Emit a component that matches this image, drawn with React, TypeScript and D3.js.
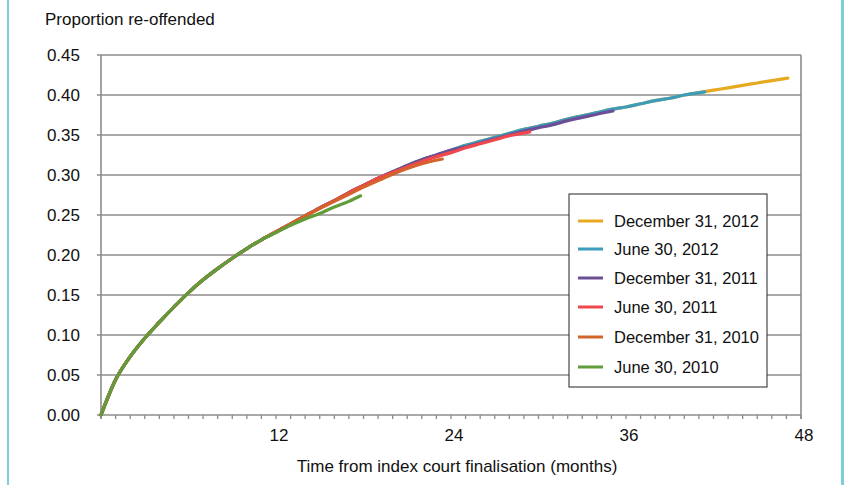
import React from "react";
import * as d3 from "d3";

// ---- Data ----
const seriesNames = [
  "December 31, 2012",
  "June 30, 2012",
  "December 31, 2011",
  "June 30, 2011",
  "December 31, 2010",
  "June 30, 2010",
];
const seriesColors = ["#E6A920", "#3B9CBB", "#6C4E96", "#F0474D", "#D3622B", "#5E9D3A"];

// last point of each series sits at this month
const lastMonths = [47.1, 41.4, 35.1, 29.4, 23.4, 17.8];

const dec2012 = [0.000, 0.044, 0.073, 0.096, 0.116, 0.135, 0.153, 0.169, 0.183, 0.196, 0.208, 0.219, 0.229, 0.239, 0.249, 0.259, 0.268, 0.278, 0.287, 0.296, 0.304, 0.312, 0.319, 0.325, 0.331, 0.337, 0.342, 0.347, 0.352, 0.357, 0.361, 0.365, 0.370, 0.374, 0.378, 0.382, 0.385, 0.389, 0.393, 0.396, 0.400, 0.403, 0.406, 0.409, 0.412, 0.415, 0.418, 0.421];
const jun2012 = [0.000, 0.044, 0.073, 0.096, 0.116, 0.135, 0.153, 0.169, 0.183, 0.196, 0.208, 0.219, 0.229, 0.239, 0.249, 0.259, 0.268, 0.278, 0.287, 0.296, 0.304, 0.312, 0.319, 0.325, 0.331, 0.337, 0.342, 0.347, 0.352, 0.357, 0.361, 0.365, 0.370, 0.374, 0.378, 0.382, 0.385, 0.389, 0.393, 0.396, 0.400, 0.404];
const dec2011 = [0.000, 0.044, 0.073, 0.096, 0.116, 0.135, 0.153, 0.169, 0.183, 0.196, 0.208, 0.219, 0.229, 0.239, 0.249, 0.259, 0.268, 0.278, 0.287, 0.296, 0.304, 0.312, 0.319, 0.325, 0.331, 0.335, 0.340, 0.345, 0.350, 0.355, 0.359, 0.363, 0.368, 0.372, 0.376, 0.380];
const jun2011 = [0.000, 0.044, 0.073, 0.096, 0.116, 0.135, 0.153, 0.169, 0.183, 0.196, 0.208, 0.219, 0.229, 0.239, 0.249, 0.259, 0.268, 0.278, 0.287, 0.296, 0.303, 0.310, 0.317, 0.323, 0.328, 0.334, 0.339, 0.344, 0.349, 0.354];
const dec2010 = [0.000, 0.044, 0.073, 0.096, 0.116, 0.135, 0.153, 0.169, 0.183, 0.196, 0.208, 0.219, 0.229, 0.239, 0.249, 0.258, 0.267, 0.276, 0.285, 0.293, 0.301, 0.308, 0.314, 0.320];
const jun2010 = [0.000, 0.044, 0.073, 0.096, 0.116, 0.135, 0.153, 0.169, 0.183, 0.196, 0.208, 0.219, 0.228, 0.237, 0.245, 0.252, 0.260, 0.267, 0.274];

const seriesValues = [dec2012, jun2012, dec2011, jun2011, dec2010, jun2010];

const yTicks = [0, 0.05, 0.1, 0.15, 0.2, 0.25, 0.3, 0.35, 0.4, 0.45];
const xTickLabels = [12, 24, 36, 48];

const yTitle = "Proportion re-offended";
const xTitle = "Time from index court finalisation (months)";

const FONT = "'Liberation Sans', Arial, sans-serif";

export default function App() {
  const W = 844;
  const H = 485;
  const x = d3.scaleLinear().domain([0, 48]).range([101, 801]);
  const y = d3.scaleLinear().domain([0, 0.45]).range([415, 55]);
  const grid = "#8C8C8C";

  const line = d3
    .line<[number, number]>()
    .x((d) => x(d[0]))
    .y((d) => y(d[1]))
    .curve(d3.curveMonotoneX);

  const minorTicks = d3.range(0, 49);

  const legendX = 569;
  const legendY = 194;
  const legendW = 198;
  const legendH = 193;
  const rowY = [221, 249, 278, 307, 337, 367];

  return (
    <svg
      width={W}
      height={H}
      style={{ position: "absolute", left: 0, top: 0, background: "#fff" }}
      fontFamily={FONT}
    >
      <rect x={0} y={0} width={W} height={H} fill="#fff" />
      {/* teal side borders */}
      <line x1={8} x2={8} y1={0} y2={H} stroke="#7CCFD5" strokeWidth={2} />
      <line x1={842.5} x2={842.5} y1={0} y2={H} stroke="#7CCFD5" strokeWidth={3} />

      {/* y title */}
      <text x={45} y={25} fontSize={17} fill="#111">
        {yTitle}
      </text>

      {/* gridlines + y ticks */}
      {yTicks.map((t) => (
        <g key={t}>
          <line x1={97} x2={x(48)} y1={y(t)} y2={y(t)} stroke={grid} strokeWidth={1.6} />
          <text x={80} y={y(t)} dy="0.36em" textAnchor="end" fontSize={17} fill="#111">
            {t.toFixed(2)}
          </text>
        </g>
      ))}

      {/* axes frame */}
      <line x1={x(0)} x2={x(0)} y1={y(0.45)} y2={y(0) + 4} stroke={grid} strokeWidth={1.6} />
      <line x1={x(48)} x2={x(48)} y1={y(0.45)} y2={y(0) + 4} stroke={grid} strokeWidth={1.6} />
      {minorTicks.map((m) => (
        <line key={m} x1={x(m)} x2={x(m)} y1={y(0)} y2={y(0) + 4} stroke={grid} strokeWidth={1.3} />
      ))}
      {xTickLabels.map((t) => (
        <text key={t} x={x(t) + 3} y={441} textAnchor="middle" fontSize={17} fill="#111">
          {t}
        </text>
      ))}
      <text x={457} y={472} textAnchor="middle" fontSize={17} fill="#111">
        {xTitle}
      </text>

      {/* series */}
      {seriesValues.map((vals, i) => {
        const pts: [number, number][] = vals.map((v, j) => [j === vals.length - 1 ? lastMonths[i] : j, v]);
        return (
          <path
            key={seriesNames[i]}
            d={line(pts) || ""}
            fill="none"
            stroke={seriesColors[i]}
            strokeWidth={3.2}
            strokeLinecap="round"
            strokeLinejoin="round"
          />
        );
      })}

      {/* legend */}
      <rect x={legendX} y={legendY} width={legendW} height={legendH} fill="#fff" stroke="#222" strokeWidth={1} />
      {seriesNames.map((n, i) => (
        <g key={n}>
          <line x1={578} x2={603} y1={rowY[i]} y2={rowY[i]} stroke={seriesColors[i]} strokeWidth={3} />
          <text x={614} y={rowY[i]} dy="0.36em" fontSize={16.5} fill="#111">
            {n}
          </text>
        </g>
      ))}
    </svg>
  );
}
